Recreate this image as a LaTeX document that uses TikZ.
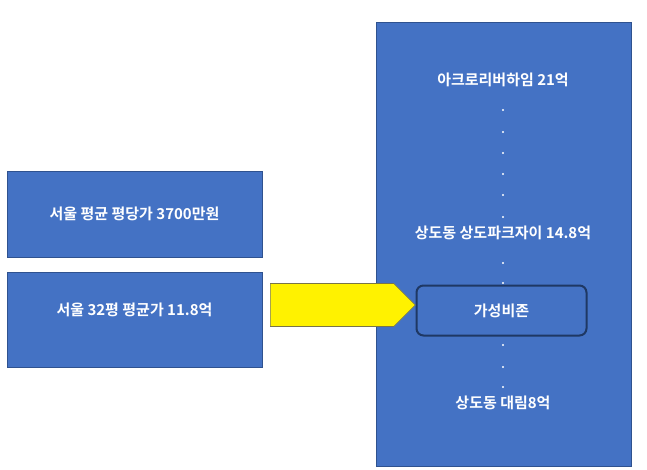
\documentclass[tikz,border=0pt]{standalone}
\usepackage{fontspec}
\setmainfont{Noto Sans CJK KR}[BoldFont={* Bold}]
\usetikzlibrary{shapes.arrows}
\definecolor{bx}{HTML}{4472C4}
\definecolor{bd}{HTML}{2F528F}
\definecolor{dk}{HTML}{1F3864}
\begin{document}
\begin{tikzpicture}[x=1pt,y=-1pt,
  box/.style={draw=bd,fill=bx,line width=0.8pt},
  lbl/.style={text=white,font=\fontsize{15}{18}\selectfont\bfseries,inner sep=0},
  dot/.style={circle,fill=white,inner sep=0,minimum size=2.2pt}]
\useasboundingbox (0,0) rectangle (647,470);
\draw[box] (7,171) rectangle (262,257);
\node[lbl] (a) at (134.5,214) {서울 평균 평당가 3700만원};
\draw[box] (7,272) rectangle (262,367);
\node[lbl] (b) at (134.5,310) {서울 32평 평균가 11.8억};
\draw[box] (376,22) rectangle (631,466);
\node[lbl] (t1) at (503,80) {아크로리버하임 21억};
\node[lbl] (t2) at (503,233) {상도동 상도파크자이 14.8억};
\node[lbl] (t3) at (503,403) {상도동 대림8억};
\foreach \y in {110,132,153,174,195,217,263,283,345,367,387} \node[dot] at (503,\y) {};
\node[draw=dk,fill=bx,line width=2pt,rounded corners=7pt,minimum width=170pt,minimum height=50pt,text=white,font=\fontsize{15}{18}\selectfont\bfseries] (g) at (501.5,310.5) {가성비존};
\coordinate (s) at (270,305);
\node[single arrow,draw=black!60!yellow,fill=yellow,line width=0.6pt,minimum height=145pt,minimum width=43pt,single arrow head extend=0pt,inner sep=0,anchor=tail,shape border uses incircle=false] (ar) at (s) {};
\end{tikzpicture}
\end{document}
